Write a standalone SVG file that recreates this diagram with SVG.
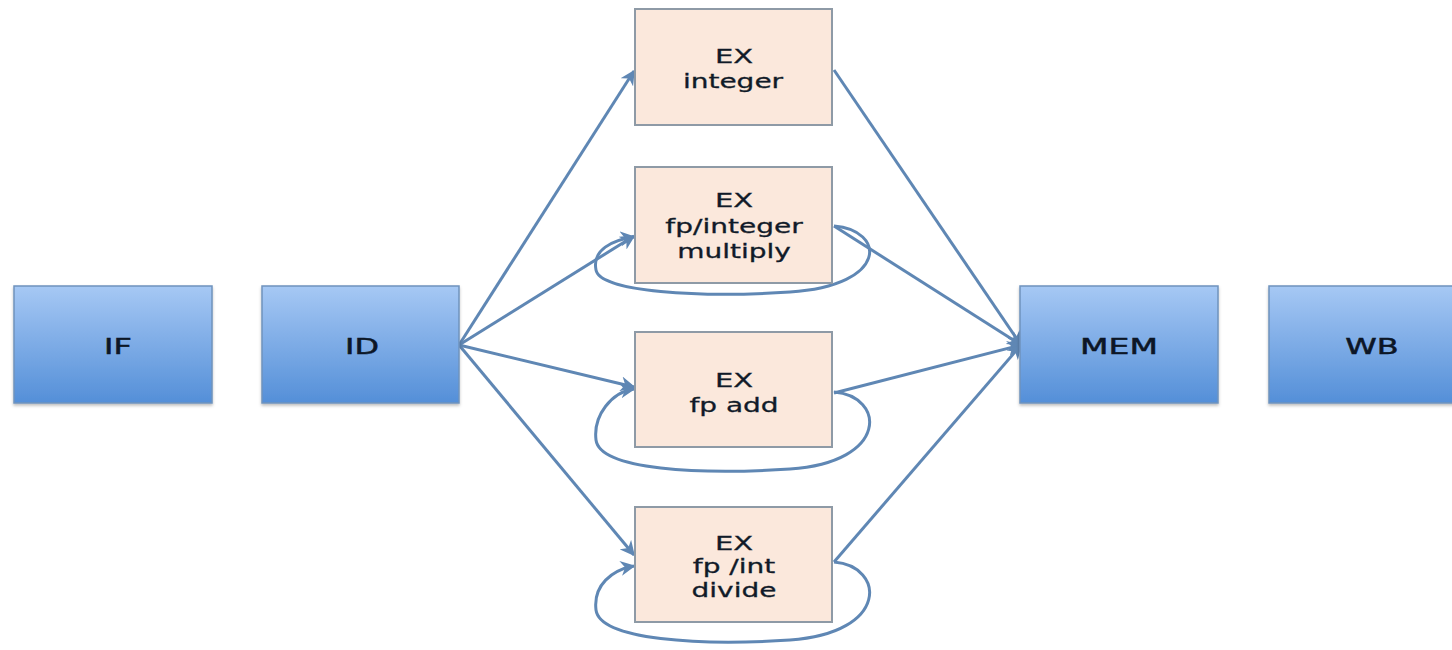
<svg xmlns="http://www.w3.org/2000/svg" width="1452" height="650" viewBox="0 0 1452 650">
<style>
.stage{stroke:#6f93bd;stroke-width:1.5}
.ex{fill:#fbe8dc;stroke:#8e9aa6;stroke-width:2}
.t{font-family:"DejaVu Sans","Liberation Sans",sans-serif;font-size:20px;fill:#101a28;stroke:#101a28;stroke-width:0.3;text-anchor:middle}
.s{font-family:"DejaVu Sans","Liberation Sans",sans-serif;font-size:22px;fill:#0c1626;stroke:#0c1626;stroke-width:0.5;text-anchor:middle}
.c{fill:none;stroke:#5f87b4;stroke-width:3}
</style>
<defs>
<linearGradient id="g" x1="0" y1="0" x2="0" y2="1">
<stop offset="0" stop-color="#a6c8f4"/>
<stop offset="1" stop-color="#548fd8"/>
</linearGradient>
<filter id="sh" x="-10%" y="-10%" width="120%" height="130%">
<feDropShadow dx="0" dy="2" stdDeviation="1.5" flood-color="#000" flood-opacity="0.25"/>
</filter>
<marker id="a" viewBox="0 0 10 10" refX="9" refY="5" markerWidth="5" markerHeight="5" orient="auto" markerUnits="strokeWidth">
<path d="M0,0 L10,5 L0,10 L3,5 z" fill="#5f87b4"/>
</marker>
</defs>
<rect width="1452" height="650" fill="#fff"/>
<g id="connectors">
<path class="c" d="M459,345 L634,71" marker-end="url(#a)"/>
<path class="c" d="M459,345 L634,236" marker-end="url(#a)"/>
<path class="c" d="M459,345 L634,387" marker-end="url(#a)"/>
<path class="c" d="M459,345 L634,555" marker-end="url(#a)"/>
<path class="c" d="M834,70 L1021,345" marker-end="url(#a)"/>
<path class="c" d="M834,226 L1021,345" marker-end="url(#a)"/>
<path class="c" d="M834,393 L1021,345" marker-end="url(#a)"/>
<path class="c" d="M834,562 L1021,345" marker-end="url(#a)"/>
<path class="c" d="M834,226 C885,230 890,285 790,292 C700,298 600,292 596,270 C592,250 612,240 634,237" marker-end="url(#a)"/>
<path class="c" d="M834,392 C885,396 890,462 790,469 C700,475 600,470 596,440 C593,415 612,392 634,389" marker-end="url(#a)"/>
<path class="c" d="M834,562 C885,566 890,633 790,640 C700,646 600,640 596,610 C593,585 612,570 634,566" marker-end="url(#a)"/>
</g>
<g id="IF"><rect class="stage" x="14" y="286" width="198" height="117" fill="url(#g)" filter="url(#sh)"/><text class="s" transform="translate(118,354) scale(1.45,1)">IF</text></g>
<g id="ID"><rect class="stage" x="262" y="286" width="197" height="117" fill="url(#g)" filter="url(#sh)"/><text class="s" transform="translate(362,354) scale(1.45,1)">ID</text></g>
<g id="MEM"><rect class="stage" x="1020" y="286" width="198" height="117" fill="url(#g)" filter="url(#sh)"/><text class="s" transform="translate(1119,354) scale(1.5,1)">MEM</text></g>
<g id="WB"><rect class="stage" x="1269" y="286" width="198" height="117" fill="url(#g)" filter="url(#sh)"/><text class="s" transform="translate(1372,354) scale(1.45,1)">WB</text></g>
<g id="EXint"><rect class="ex" x="635" y="9" width="197" height="116"/><text class="t" transform="translate(734,63) scale(1.45,1)">EX</text><text class="t" transform="translate(733,88) scale(1.4,1)">integer</text></g>
<g id="EXmul"><rect class="ex" x="635" y="167" width="197" height="116"/><text class="t" transform="translate(734,207) scale(1.45,1)">EX</text><text class="t" transform="translate(734,233) scale(1.4,1)">fp/integer</text><text class="t" transform="translate(734,258) scale(1.4,1)">multiply</text></g>
<g id="EXadd"><rect class="ex" x="635" y="332" width="197" height="115"/><text class="t" transform="translate(734,387) scale(1.45,1)">EX</text><text class="t" transform="translate(734,412) scale(1.4,1)">fp add</text></g>
<g id="EXdiv"><rect class="ex" x="635" y="507" width="197" height="115"/><text class="t" transform="translate(734,550) scale(1.45,1)">EX</text><text class="t" transform="translate(734,573) scale(1.4,1)">fp /int</text><text class="t" transform="translate(734,597) scale(1.4,1)">divide</text></g>
</svg>
